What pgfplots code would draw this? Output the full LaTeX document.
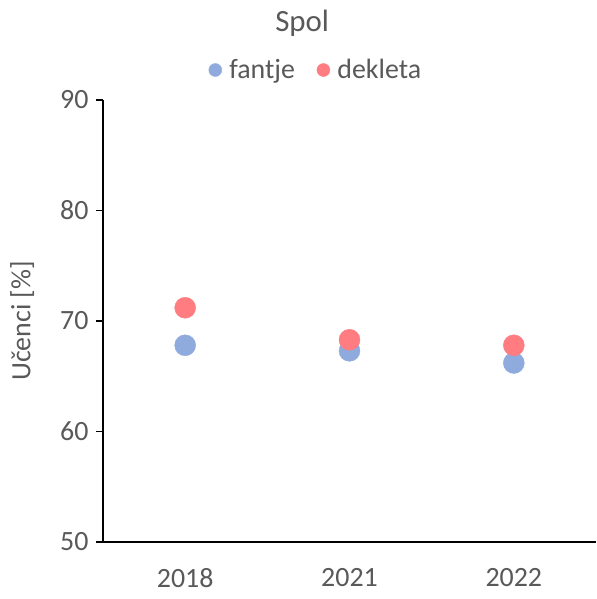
\documentclass[border=0pt]{standalone}
\usepackage{pgfplots}
\pgfplotsset{compat=1.18}
\usepackage{fontspec}
\setmainfont{Carlito}
\definecolor{fantjec}{HTML}{8FAADC}
\definecolor{dekletac}{HTML}{FF7C80}
\definecolor{txt}{HTML}{595959}
\begin{document}
\begin{tikzpicture}
\begin{axis}[
  at={(0,0)}, anchor=south west,
  scale only axis, width=493bp, height=442bp,
  xmin=0.5, xmax=3.5, ymin=50, ymax=90,
  xtick={1,2,3}, xticklabels={2018,2021,2022},
  extra x ticks={1.5,2.5,3.5}, extra x tick labels={},
  extra x tick style={major tick length=7bp, tick style={black, line width=1.2bp}},
  ytick={50,60,70,80,90},
  axis lines*=left,
  axis line style={black, line width=1.2bp, -},
  x axis line style={-}, y axis line style={-},
  major x tick style={draw=none},
  ytick style={black, line width=1.2bp},
  tick align=outside, major tick length=7bp,
  x tick label style={yshift=-16bp},
  y tick label style={xshift=-4bp},
  tick label style={font=\fontsize{28}{33}\selectfont, text=txt},
  /pgf/number format/assume math mode=true,
  ylabel={Učenci [\%]},
  ylabel style={at={(axis description cs:-0.164,0.5)}, anchor=center, rotate=0,
    font=\fontsize{28}{33}\selectfont, text=txt},
  title={Spol},
  title style={at={(0.404,1)}, anchor=center, yshift=71bp,
    font=\fontsize{31}{37}\selectfont, text=txt},
  legend columns=2,
  legend style={at={(0.432,1)}, anchor=center, yshift=30bp, draw=none, fill=none,
    font=\fontsize{28}{33}\selectfont, text=txt,
    /tikz/every even column/.append style={column sep=20bp}},
  legend image code/.code={%
    \path[draw=none, fill=none] (-6.5bp,-1bp) rectangle (12bp,1bp);
    \draw[#1,mark size=6.5bp] plot coordinates {(0bp,0bp)};},
]
\addplot[only marks, mark=*, color=fantjec, mark size=10.5bp] coordinates {
  (1,67.8) (2,67.3) (3,66.2)
};
\addlegendentry{fantje}
\addplot[only marks, mark=*, color=dekletac, mark size=10.5bp] coordinates {
  (1,71.2) (2,68.3) (3,67.8)
};
\addlegendentry{dekleta}
\end{axis}
\pgfresetboundingbox
\path[use as bounding box] (-103bp,-57bp) rectangle (494bp,542bp);
\end{tikzpicture}
\end{document}
